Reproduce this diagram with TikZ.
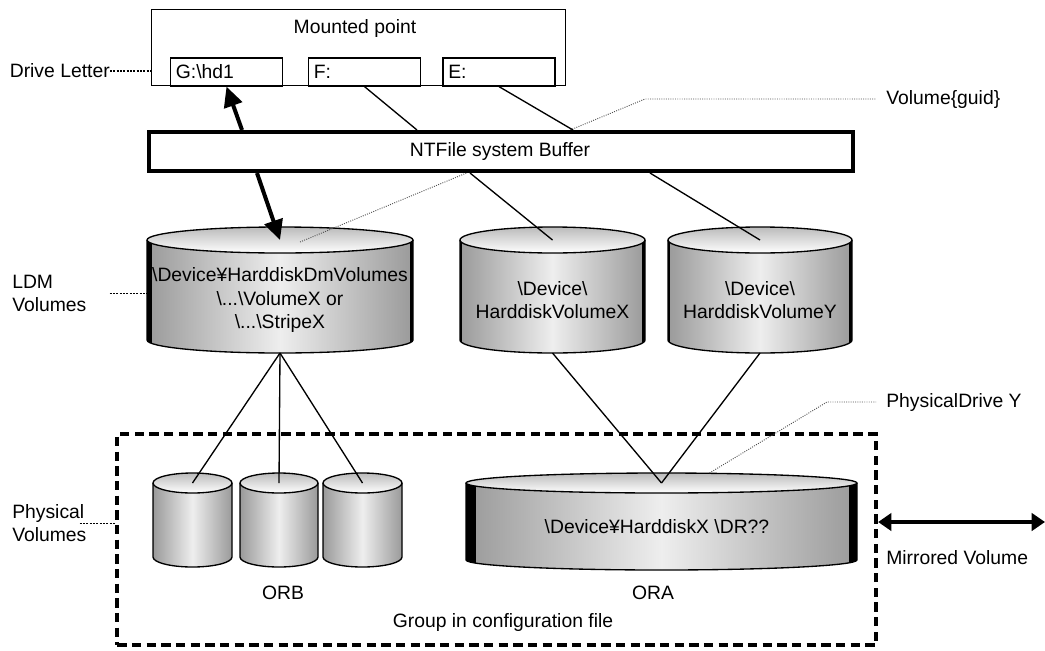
\documentclass[tikz,border=0pt]{standalone}
\usepackage{fontspec}
\setmainfont{Liberation Sans}
\usepackage{tikz}
\usetikzlibrary{arrows.meta,positioning,calc}
\definecolor{drside}{HTML}{9A9A9A}
\definecolor{drmid}{HTML}{EEEEEE}
\definecolor{drcap}{HTML}{BBBBBB}
\definecolor{leadgray}{HTML}{505050}

% disk drum: name, cx, y top cap, y bottom cap, rx, ry, left rim, right rim
\newcommand\drum[8]{%
  \shade[left color=drside,right color=drside,middle color=drmid]
    (#2-#5,#3) -- (#2-#5,#4) arc[start angle=180,end angle=0,x radius=#5,y radius=#6] -- (#2+#5,#3) -- cycle;
  \begin{scope}
    \clip (#2-#5,#3) -- (#2-#5,#4) arc[start angle=180,end angle=0,x radius=#5,y radius=#6] -- (#2+#5,#3) -- cycle;
    \fill[black] (#2-#5,#3) rectangle (#2-#5+#7,#4+#6);
    \fill[black] (#2+#5-#8,#3) rectangle (#2+#5,#4+#6);
  \end{scope}
  \shade[top color=drcap,bottom color=white] (#2,#3) ellipse[x radius=#5,y radius=#6];
  \draw[drumline] (#2-#5,#3) -- (#2-#5,#4) arc[start angle=180,end angle=0,x radius=#5,y radius=#6] -- (#2+#5,#3);
  \draw[drumline] (#2,#3) ellipse[x radius=#5,y radius=#6];
  \coordinate (#1-top) at (#2,#3);
  \coordinate (#1-bot) at (#2,#4+#6);
  \coordinate (#1-w) at (#2-#5,#3/2+#4/2);
}

\begin{document}
\begin{tikzpicture}[
  x=0.75pt,y=-0.75pt,
  font=\fontsize{14.5}{17.3}\selectfont,
  mountbox/.style={draw,fill=white,line width=0.9pt,minimum width=310.5pt,minimum height=57pt,inner sep=0pt},
  letter/.style={draw,line width=0.9pt,minimum width=84pt,minimum height=21pt,
                 text width=76pt,inner xsep=4pt,inner ysep=0pt,align=left},
  bufbox/.style={draw,fill=white,line width=3pt,minimum width=528pt,minimum height=29.25pt},
  group/.style={draw,line width=3.4pt,dash pattern=on 7pt off 4pt,
                minimum width=569pt,minimum height=158pt},
  drumline/.style={line width=1pt},
  drumtxt/.style={align=center},
  link/.style={line width=1pt},
  bigarr/.style={line width=3pt,-{Triangle[length=15pt,width=14pt]}},
  mirarr/.style={line width=3pt,{Triangle[length=10pt,width=13pt]}-{Triangle[length=10pt,width=13pt]}},
  guide/.style={densely dotted,line width=0.7pt,draw=leadgray},
  tick/.style={dash pattern=on 1.5pt off 1pt,line width=0.8pt},
  side/.style={align=left,inner xsep=0pt}
]
\useasboundingbox (0,0) rectangle (1045,650);

% mounted points
\node[mountbox] (mount) at (358.5,47.5) {};
\node (mounttxt) at (355,28) {Mounted point};
\node[letter] (gbox) at (226.5,72) {G:\textbackslash hd1};
\node[letter] (fbox) at (364.5,72) {F:};
\node[letter] (ebox) at (499,72) {E:};

% volumes
\drum{ldm}{280}{240}{340}{133}{13}{5}{3}
\drum{hvx}{552.5}{240}{340}{92.5}{13}{2}{3}
\drum{hvy}{760}{240}{340}{92}{13}{2}{3}
\node[drumtxt] (ldmtxt) at (280,300) {\textbackslash Device¥HarddiskDmVolumes\\\textbackslash...\textbackslash VolumeX or\\\textbackslash...\textbackslash StripeX};
\node[drumtxt] (hvxtxt) at (552.5,300) {\textbackslash Device\textbackslash\\HarddiskVolumeX};
\node[drumtxt] (hvytxt) at (760,300) {\textbackslash Device\textbackslash\\HarddiskVolumeY};

% physical disks
\node[group] (grp) at (496.5,539.5) {};
\drum{orbA}{192.5}{483}{557}{39.5}{10}{0}{0}
\drum{orbB}{279}{483}{557}{39}{10}{0}{0}
\drum{orbC}{362.5}{483}{557}{39.5}{10}{0}{0}
\drum{ora}{661.5}{483}{560}{195.5}{10}{10}{8}
\node (oratxt) at (657,527) {\textbackslash Device¥HarddiskX \textbackslash DR??};
\node (orb) at (283,593) {ORB};
\node (ora) at (653,593) {ORA};
\node (grptxt) at (503,622) {Group in configuration file};

% labels
\node[side,anchor=west] (guid) at (886,99) {Volume\{guid\}};
\node[side,anchor=west] (pdy) at (886,402) {PhysicalDrive Y};
\node[side,anchor=west] (mirlbl) at (886,558) {Mirrored Volume};
\node[side,anchor=east] (dl) at (110,71) {Drive Letter};
\node[side,anchor=west] (ldmlbl) at (12,293.5) {LDM\\Volumes};
\node[side,anchor=west] (pvlbl) at (12,523.5) {Physical\\Volumes};

\draw[guide] ($(ldm-top)+(20,2)$) -- ($(guid.west)+(-241,0)$) -- ($(guid.west)+(-10,0)$);
\draw[guide] ($(ora-top)+(48,-10)$) -- ($(pdy.west)+(-59,0)$) -- ($(pdy.west)+(-10,0)$);
\draw[tick] (dl.east) -- (dl.east -| mount.west);
\draw[tick] ($(ldmlbl.east)+(23,0)$) -- (ldmlbl.east -| ldm-w);
\draw[tick] ($(pvlbl.east)+(-7,0)$) -- (pvlbl.east -| grp.west);

% buffer
\node[bufbox] (buf) at (501,151.5) {};
\node (buftxt) at (500,151) {NTFile system Buffer};

\draw[link] (fbox.south) -- ($(buf.north west)+(270,0)$);
\draw[link] (ebox.south) -- ($(buf.north west)+(426,0)$);
\draw[bigarr] ($(buf.north west)+(95,0)$) -- (gbox.south);
\draw[bigarr] ($(buf.south west)+(110,0)$) -- (ldm-top);
\draw[link] ($(buf.south west)+(323,0)$) -- (hvx-top);
\draw[link] ($(buf.south west)+(503,0)$) -- (hvy-top);
\draw[link] (ldm-bot) -- (orbA-top);
\draw[link] (ldm-bot) -- (orbB-top);
\draw[link] (ldm-bot) -- (orbC-top);
\draw[link] (hvx-bot) -- (ora-top);
\draw[link] (hvy-bot) -- (ora-top);

\coordinate (mirend) at (1045,522);
\draw[mirarr] (grp.east |- mirend) -- (mirend);
\end{tikzpicture}
\end{document}
